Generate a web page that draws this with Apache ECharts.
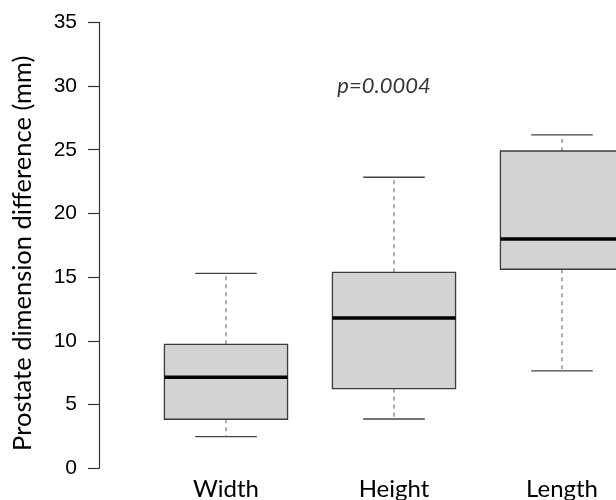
<!DOCTYPE html>
<html>
<head>
<meta charset="utf-8">
<script src="https://cdn.jsdelivr.net/npm/echarts@6/dist/echarts.min.js"></script>
<style>html,body{margin:0;padding:0;background:#fff}#c{width:616px;height:500px}</style>
</head>
<body>
<div id="c"></div>
<script>
const categories = ['Width', 'Height', 'Length'];
const lowWhisker = [2.48, 3.87, 7.64];
const q1 = [3.85, 6.25, 15.62];
const median = [7.14, 11.79, 17.99];
const q3 = [9.73, 15.38, 24.90];
const highWhisker = [15.30, 22.84, 26.16];
const yTicks = [0, 5, 10, 15, 20, 25, 30, 35];
const annotation = { category: 'Height', value: 30, text: 'p=0.0004' };

const boxData = categories.map((c, i) => [i, lowWhisker[i], q1[i], median[i], q3[i], highWhisker[i]]);

const chart = echarts.init(document.getElementById('c'), null, { renderer: 'canvas' });

function renderBox(params, api) {
  const idx = api.value(0);
  const lo = api.coord([idx, api.value(1)]);
  const b1 = api.coord([idx, api.value(2)]);
  const md = api.coord([idx, api.value(3)]);
  const b3 = api.coord([idx, api.value(4)]);
  const hi = api.coord([idx, api.value(5)]);
  const band = api.size([1, 0])[0];
  const bw = band * 0.733;
  const cw = bw * 0.5;
  const x = lo[0];
  const whiskerStyle = { stroke: '#7a7a7a', lineWidth: 1.2, lineDash: [4, 4] };
  const capStyle = { stroke: '#444', lineWidth: 1.3 };
  return {
    type: 'group',
    children: [
      { type: 'line', shape: { x1: x, y1: b3[1], x2: x, y2: hi[1] }, style: whiskerStyle },
      { type: 'line', shape: { x1: x, y1: b1[1], x2: x, y2: lo[1] }, style: whiskerStyle },
      { type: 'line', shape: { x1: x - cw / 2, y1: hi[1], x2: x + cw / 2, y2: hi[1] }, style: capStyle },
      { type: 'line', shape: { x1: x - cw / 2, y1: lo[1], x2: x + cw / 2, y2: lo[1] }, style: capStyle },
      { type: 'rect', shape: { x: x - bw / 2, y: b3[1], width: bw, height: b1[1] - b3[1] },
        style: { fill: '#d3d3d3', stroke: '#3c3c3c', lineWidth: 1.3 } },
      { type: 'line', shape: { x1: x - bw / 2, y1: md[1], x2: x + bw / 2, y2: md[1] },
        style: { stroke: '#000', lineWidth: 3.6 } }
    ]
  };
}

chart.setOption({
  animation: false,
  backgroundColor: '#fff',
  grid: { left: 142, top: 22.3, width: 504, height: 446, containLabel: false, outerBoundsMode: 'none' },
  xAxis: {
    type: 'category',
    data: categories,
    boundaryGap: true,
    axisLine: { show: false },
    axisTick: { show: false },
    splitLine: { show: false },
    axisLabel: { fontFamily: 'Lato', fontSize: 24, color: '#000', margin: 9 }
  },
  yAxis: {
    type: 'value',
    min: 0, max: 35, interval: 5,
    offset: 43,
    name: 'Prostate dimension difference (mm)',
    nameLocation: 'middle',
    nameRotate: 90,
    nameGap: 63,
    nameTextStyle: { fontFamily: 'Lato', fontSize: 25.5, color: '#000', padding: [0, 16, 0, 0] },
    axisLine: { show: true, lineStyle: { color: '#333', width: 1.2 } },
    axisTick: { show: true, length: 11, lineStyle: { color: '#333', width: 1.2 } },
    splitLine: { show: false },
    axisLabel: {
      fontFamily: 'Liberation Sans', fontSize: 21, color: '#000', margin: 22,
      formatter: v => (yTicks.indexOf(v) >= 0 ? String(v) : '')
    }
  },
  series: [
    {
      type: 'custom',
      renderItem: renderBox,
      data: boxData,
      encode: { x: 0, y: [1, 2, 3, 4, 5] },
      z: 2
    },
    {
      type: 'scatter',
      symbolSize: 0,
      data: [[annotation.category, annotation.value]],
      label: {
        show: true,
        position: 'inside',
        offset: [-10, 0],
        formatter: annotation.text,
        fontFamily: 'Lato',
        fontStyle: 'italic',
        fontSize: 22,
        color: '#000'
      },
      silent: true
    }
  ]
});
</script>
</body>
</html>
